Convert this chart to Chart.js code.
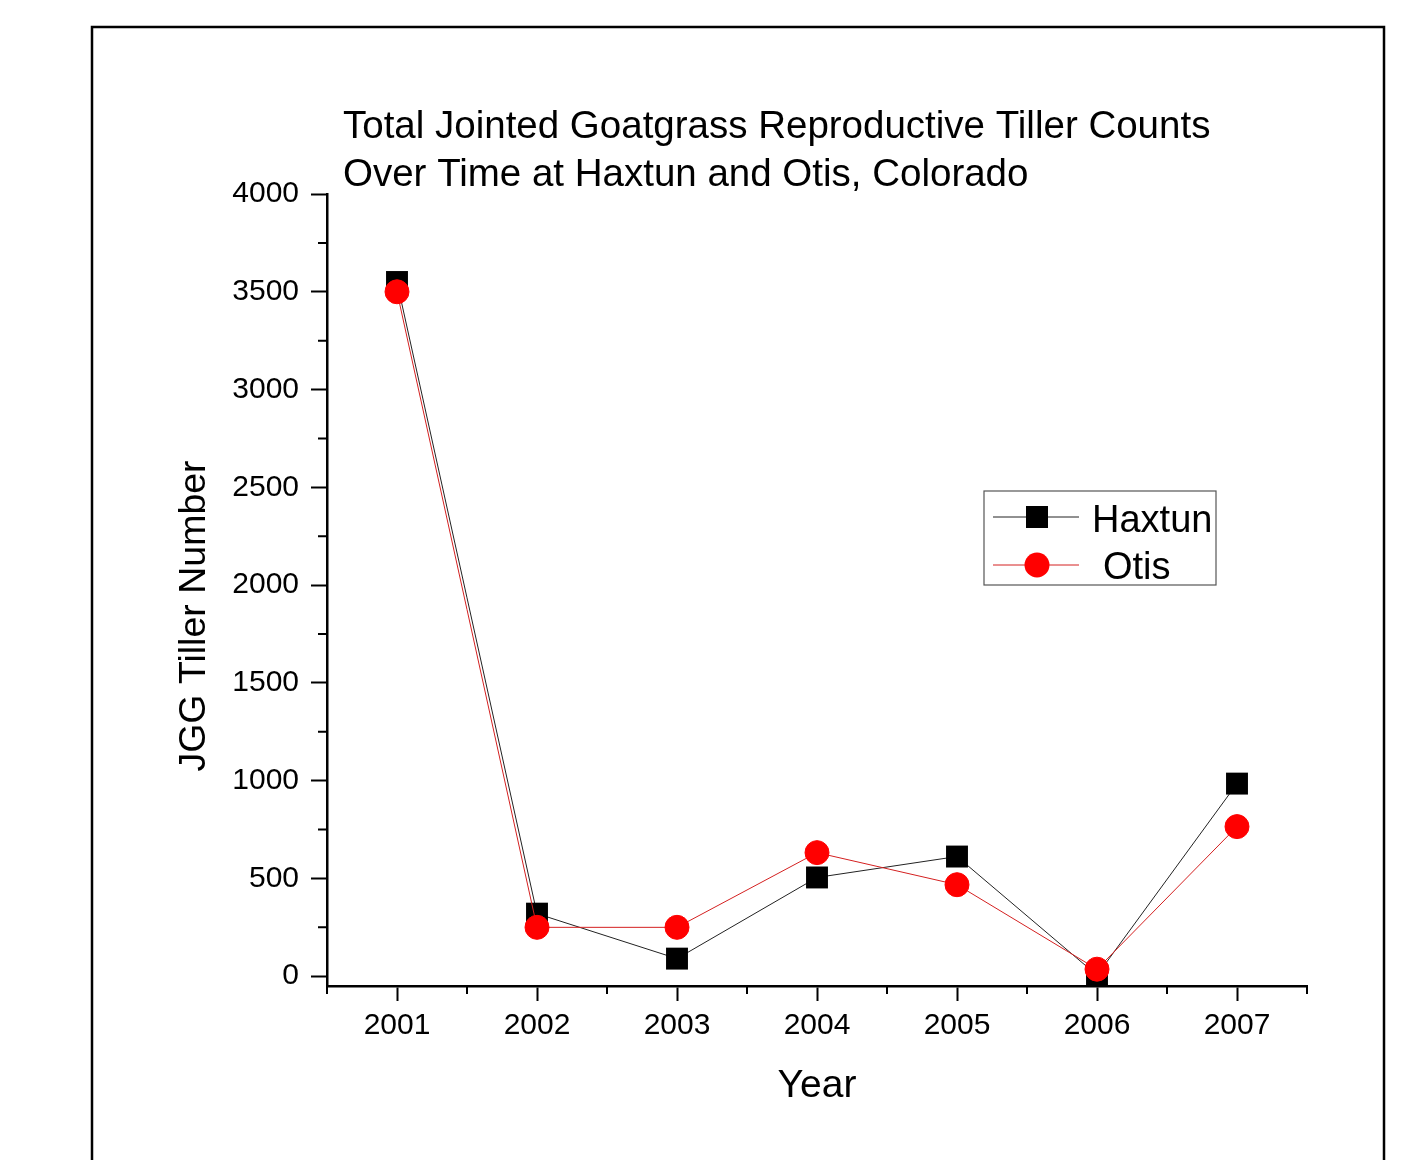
<!DOCTYPE html>
<html>
<head>
<meta charset="utf-8">
<title>Jointed Goatgrass Tiller Counts</title>
<script src="https://cdn.jsdelivr.net/npm/chart.js@4/dist/chart.umd.min.js"></script>
<style>
  body { margin: 0; background: #fff; }
  canvas { display: block; }
</style>
</head>
<body>
<canvas id="graficoTiller" width="1422" height="1160"></canvas>
<script>
const years = [2001, 2002, 2003, 2004, 2005, 2006, 2007];
const haxtun = [3550, 320, 90, 505, 612, 5, 985];
const otis = [3500, 250, 250, 632, 468, 36, 765];
const yTicks = [0, 500, 1000, 1500, 2000, 2500, 3000, 3500, 4000];
const yMinor = [250, 750, 1250, 1750, 2250, 2750, 3250, 3750];
const xMinor = [2000.5, 2001.5, 2002.5, 2003.5, 2004.5, 2005.5, 2006.5, 2007.5];
const titleLines = ['Total Jointed Goatgrass Reproductive Tiller Counts', 'Over Time at Haxtun and Otis, Colorado'];

const FONT = '"Liberation Sans", Arial, sans-serif';

document.addEventListener("DOMContentLoaded", function () {
  const ctx = document.getElementById('graficoTiller').getContext('2d');

  // frame, titles, minor ticks and the legend box
  const extras = {
    id: 'extras',
    afterDraw(chart) {
      const c = chart.ctx;
      const area = chart.chartArea;
      const xs = chart.scales.x, ys = chart.scales.y;
      c.save();

      c.strokeStyle = '#000';
      c.lineWidth = 2.5;
      c.strokeRect(92, 27, 1292, 1200);

      c.lineWidth = 2;
      c.beginPath();
      yMinor.forEach(v => {
        const p = ys.getPixelForValue(v);
        c.moveTo(area.left - 9, p);
        c.lineTo(area.left, p);
      });
      xMinor.forEach(v => {
        const p = xs.getPixelForValue(v);
        c.moveTo(p, area.bottom);
        c.lineTo(p, area.bottom + 8);
      });
      c.stroke();

      c.fillStyle = '#000';
      c.textBaseline = 'alphabetic';
      c.textAlign = 'left';
      c.font = '38.5px ' + FONT;
      c.fillText(titleLines[0], 343, 138);
      c.fillText(titleLines[1], 343, 186);

      c.textAlign = 'center';
      c.font = '39px ' + FONT;
      c.fillText('Year', (area.left + area.right) / 2, 1097);

      c.save();
      c.translate(205, 616);
      c.rotate(-Math.PI / 2);
      c.font = '37.5px ' + FONT;
      c.fillText('JGG Tiller Number', 0, 0);
      c.restore();

      // legend
      c.strokeStyle = '#555';
      c.lineWidth = 1.2;
      c.strokeRect(984, 491, 232, 94);
      const rows = [
        { label: 'Haxtun', y: 517, color: '#000', line: '#222', shape: 'sq', tx: 1092, base: 532 },
        { label: 'Otis', y: 565, color: '#ff0000', line: '#d42020', shape: 'ci', tx: 1103, base: 579 }
      ];
      rows.forEach(r => {
        c.strokeStyle = r.line;
        c.lineWidth = 1;
        c.beginPath();
        c.moveTo(993, r.y);
        c.lineTo(1079, r.y);
        c.stroke();
        c.fillStyle = r.color;
        if (r.shape === 'sq') {
          c.fillRect(1026, r.y - 11, 22, 22);
        } else {
          c.beginPath();
          c.arc(1037, r.y, 12.5, 0, Math.PI * 2);
          c.fill();
        }
        c.fillStyle = '#000';
        c.textAlign = 'left';
        c.font = '38px ' + FONT;
        c.fillText(r.label, r.tx, r.base);
      });

      c.restore();
    }
  };

  const config = {
    type: 'line',
    data: {
      datasets: [{
        label: 'Haxtun',
        data: years.map((yr, i) => ({ x: yr, y: haxtun[i] })),
        borderColor: '#222',
        borderWidth: 1,
        backgroundColor: '#000',
        pointStyle: 'rect',
        pointRadius: 15.5,
        pointBorderWidth: 0,
        order: 2
      }, {
        label: 'Otis',
        data: years.map((yr, i) => ({ x: yr, y: otis[i] })),
        borderColor: '#d42020',
        borderWidth: 1,
        backgroundColor: '#ff0000',
        pointBorderColor: '#ff0000',
        pointStyle: 'circle',
        pointRadius: 12,
        pointBorderWidth: 1,
        order: 1
      }]
    },
    plugins: [extras],
    options: {
      responsive: false,
      animation: false,
      layout: {
        padding: { left: 0, right: 115, top: 194, bottom: 0 }
      },
      plugins: {
        legend: { display: false },
        tooltip: { enabled: false }
      },
      scales: {
        x: {
          type: 'linear',
          min: 2000.5,
          max: 2007.5,
          afterBuildTicks: s => { s.ticks = years.map(v => ({ value: v })); },
          afterFit: s => { s.height = 174; },
          ticks: {
            color: '#000',
            font: { family: FONT, size: 30 },
            padding: 7,
            maxRotation: 0,
            callback: v => String(v)
          },
          grid: {
            drawOnChartArea: false,
            tickLength: 15,
            tickColor: '#000',
            tickWidth: 2
          },
          border: { display: true, color: '#000', width: 2.5 }
        },
        y: {
          min: -50,
          max: 4000,
          afterBuildTicks: s => { s.ticks = yTicks.map(v => ({ value: v })); },
          afterFit: s => { s.width = 327; },
          ticks: {
            color: '#000',
            font: { family: FONT, size: 30 },
            padding: 12,
            callback: v => String(v)
          },
          grid: {
            drawOnChartArea: false,
            tickLength: 16,
            tickColor: '#000',
            tickWidth: 2
          },
          border: { display: true, color: '#000', width: 2.5 }
        }
      }
    }
  };

  new Chart(ctx, config);
});
</script>
</body>
</html>
